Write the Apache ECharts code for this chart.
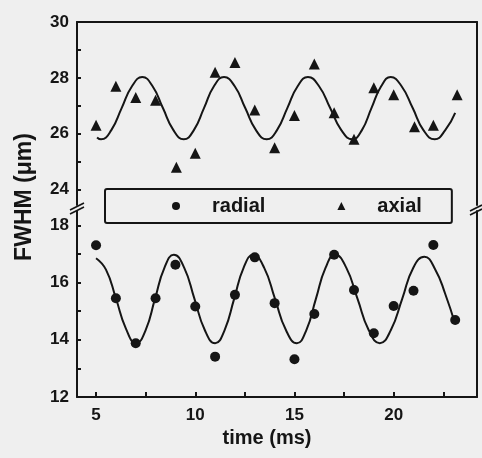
<!DOCTYPE html>
<html>
<head>
<meta charset="utf-8">
<script src="https://cdn.jsdelivr.net/npm/echarts@6/dist/echarts.min.js"></script>
<style>html,body{margin:0;padding:0;background:#efefef}#c{width:482px;height:458px}</style>
</head>
<body>
<div id="c"></div>
<script>
// ---- data ----
var timeAxial = [5, 6, 7, 8, 9.05, 10, 11, 12, 13, 14, 15, 16, 17, 18, 19, 20, 21.05, 22, 23.2];
var axial = [26.3, 27.7, 27.3, 27.2, 24.8, 25.3, 28.2, 28.55, 26.85, 25.5, 26.65, 28.5, 26.75, 25.8, 27.65, 27.4, 26.25, 26.3, 27.4];
var timeRadial = [5, 6, 7, 8, 9, 10, 11, 12, 13, 14, 15, 16, 17, 18, 19, 20, 21, 22, 23.1];
var radial = [17.3, 15.45, 13.88, 15.45, 16.62, 15.16, 13.41, 15.57, 16.88, 15.28, 13.32, 14.9, 16.97, 15.74, 14.23, 15.18, 15.71, 17.31, 14.69];

var fitAxialT = [5.05, 5.25, 5.77, 6.29, 6.81, 7.33, 7.85, 8.37, 8.9, 9.42, 9.93, 10.44, 10.94, 11.45, 11.99, 12.52, 13.06, 13.6, 14.12, 14.64, 15.16, 15.68, 16.24, 16.8, 17.36, 17.92, 18.4, 18.88, 19.37, 19.85, 20.4, 20.96, 21.5, 22.07, 22.6, 23.1];
var fitAxialV = [25.87, 25.8, 26.13, 26.92, 27.7, 28.03, 27.7, 26.92, 26.13, 25.8, 26.13, 26.92, 27.7, 28.03, 27.7, 26.92, 26.13, 25.8, 26.13, 26.92, 27.7, 28.03, 27.7, 26.92, 26.13, 25.8, 26.13, 26.92, 27.7, 28.03, 27.7, 26.92, 26.13, 25.8, 26.13, 26.75];
var fitRadialT = [5.0, 5.5, 6.0, 6.5, 7.02, 7.5, 7.97, 8.45, 8.92, 9.44, 9.96, 10.48, 11.0, 11.48, 11.96, 12.44, 12.92, 13.47, 14.02, 14.57, 15.12, 15.6, 16.08, 16.57, 17.05, 17.61, 18.18, 18.74, 19.3, 19.86, 20.43, 20.99, 21.55, 22.1, 22.6, 23.1];
var fitRadialV = [16.85, 16.45, 15.45, 14.4, 13.88, 14.34, 15.43, 16.52, 16.97, 16.52, 15.43, 14.34, 13.88, 14.34, 15.43, 16.52, 16.97, 16.52, 15.43, 14.34, 13.88, 14.34, 15.43, 16.52, 16.97, 16.52, 15.43, 14.34, 13.88, 14.34, 15.43, 16.52, 16.9, 16.45, 15.6, 14.55];

var xLabels = [5, 10, 15, 20];
var xTicks = [5, 7.5, 10, 12.5, 15, 17.5, 20, 22.5];
var upperLabels = [24, 26, 28, 30];
var upperTicks = [24, 25, 26, 27, 28, 29, 30];
var lowerLabels = [12, 14, 16, 18];
var lowerTicks = [12, 13, 14, 15, 16, 17, 18];

function zip(a, b) { return a.map(function (v, i) { return [v, b[i]]; }); }

var INK = '#151515';
var FONT = '"Liberation Sans", Arial, sans-serif';
var lineAx = { show: true, lineStyle: { color: INK, width: 2 } };
var X_MIN = 4.04, X_MAX = 24.2;

var chart = echarts.init(document.getElementById('c'), null, { renderer: 'canvas' });
chart.setOption({
  backgroundColor: '#efefef',
  animation: false,
  grid: [
    { left: 77, right: 5, top: 22, height: 183 },
    { left: 77, right: 5, top: 211, height: 186 }
  ],
  xAxis: [
    { gridIndex: 0, type: 'value', position: 'top', min: X_MIN, max: X_MAX,
      axisLine: lineAx, axisTick: { show: false }, axisLabel: { show: false }, splitLine: { show: false } },
    { gridIndex: 1, type: 'value', position: 'bottom', min: X_MIN, max: X_MAX,
      name: 'time (ms)', nameLocation: 'middle', nameGap: 31,
      nameTextStyle: { fontFamily: FONT, fontSize: 20, fontWeight: 'bold', color: INK, padding: [0, 20, 0, 0] },
      axisLine: lineAx,
      axisTick: { show: true, inside: true, length: 5, customValues: xTicks, lineStyle: { color: INK, width: 2 } },
      axisLabel: { customValues: xLabels, margin: 10, fontFamily: FONT, fontSize: 17, fontWeight: 'bold', color: INK },
      splitLine: { show: false } }
  ],
  yAxis: [
    { gridIndex: 0, type: 'value', position: 'left', min: 23.45, max: 30,
      axisLine: lineAx,
      axisTick: { show: true, inside: true, length: 4, customValues: upperTicks, lineStyle: { color: INK, width: 2 } },
      axisLabel: { customValues: upperLabels, margin: 8, fontFamily: FONT, fontSize: 17, fontWeight: 'bold', color: INK },
      splitLine: { show: false } },
    { gridIndex: 0, type: 'value', position: 'right', min: 23.45, max: 30,
      axisLine: lineAx, axisTick: { show: false }, axisLabel: { show: false }, splitLine: { show: false } },
    { gridIndex: 1, type: 'value', position: 'left', min: 12, max: 18.5,
      axisLine: lineAx,
      axisTick: { show: true, inside: true, length: 4, customValues: lowerTicks, lineStyle: { color: INK, width: 2 } },
      axisLabel: { customValues: lowerLabels, margin: 8, fontFamily: FONT, fontSize: 17, fontWeight: 'bold', color: INK },
      splitLine: { show: false } },
    { gridIndex: 1, type: 'value', position: 'right', min: 12, max: 18.5,
      axisLine: lineAx, axisTick: { show: false }, axisLabel: { show: false }, splitLine: { show: false } }
  ],
  legend: {
    data: ['radial', 'axial'],
    left: 105, top: 189,
    orient: 'horizontal',
    padding: [7, 30, 7, 67],
    itemGap: 72,
    itemWidth: 8, itemHeight: 8,
    borderColor: INK, borderWidth: 2, borderRadius: 2,
    formatter: function (n) { return '{t|' + n + '}'; },
    textStyle: { fontFamily: FONT, fontSize: 20, fontWeight: 'bold', color: INK,
      rich: { t: { fontFamily: FONT, fontSize: 20, fontWeight: 'bold', color: INK, padding: [0, 0, 0, 27] } } }
  },
  graphic: [
    { type: 'text', x: 25, y: 197, rotation: Math.PI / 2,
      style: { text: 'FWHM (μm)', fontFamily: FONT, fontSize: 23, fontWeight: 'bold', fill: INK, textAlign: 'center', textVerticalAlign: 'middle' } },
    { type: 'line', shape: { x1: 70, y1: 210, x2: 84, y2: 203 }, style: { stroke: INK, lineWidth: 1.6 } },
    { type: 'line', shape: { x1: 70, y1: 214, x2: 84, y2: 207 }, style: { stroke: INK, lineWidth: 1.6 } },
    { type: 'line', shape: { x1: 470, y1: 211, x2: 482, y2: 205 }, style: { stroke: INK, lineWidth: 1.6 } },
    { type: 'line', shape: { x1: 470, y1: 215, x2: 482, y2: 209 }, style: { stroke: INK, lineWidth: 1.6 } }
  ],
  series: [
    { name: 'axial-fit', type: 'line', xAxisIndex: 0, yAxisIndex: 0, data: zip(fitAxialT, fitAxialV),
      smooth: 0.5, showSymbol: false, lineStyle: { color: INK, width: 2 }, silent: true, z: 2 },
    { name: 'axial', type: 'scatter', xAxisIndex: 0, yAxisIndex: 0, data: zip(timeAxial, axial),
      symbol: 'triangle', symbolSize: 11, itemStyle: { color: INK, opacity: 1 }, z: 3 },
    { name: 'radial-fit', type: 'line', xAxisIndex: 1, yAxisIndex: 2, data: zip(fitRadialT, fitRadialV),
      smooth: 0.5, showSymbol: false, lineStyle: { color: INK, width: 2 }, silent: true, z: 2 },
    { name: 'radial', type: 'scatter', xAxisIndex: 1, yAxisIndex: 2, data: zip(timeRadial, radial),
      symbol: 'circle', symbolSize: 10, itemStyle: { color: INK, opacity: 1 }, z: 3 }
  ]
});
</script>
</body>
</html>
